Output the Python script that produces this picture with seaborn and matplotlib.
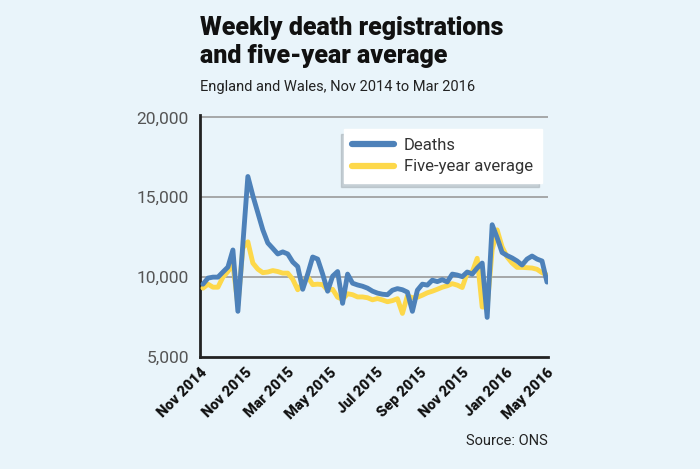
import matplotlib
matplotlib.use("Agg")
import matplotlib.pyplot as plt
import seaborn as sns
import pandas as pd
import numpy as np

# ---- data (weekly) ----
deaths = [9560, 9940, 10000, 10000, 10320, 10630, 11700, 7860, 12080, 16300,
          15100, 14030, 12960, 12140, 11800, 11450, 11580, 11450, 10950, 10660,
          9240, 10190, 11260, 11130, 10190, 9120, 10060, 10350, 8360, 10190,
          9620, 9510, 9430, 9310, 9120, 9000, 8930, 8900, 9180, 9280,
          9210, 9060, 7860, 9180, 9560, 9500, 9810, 9720, 9840, 9700,
          10190, 10130, 10030, 10320, 10190, 10570, 10880, 7480, 13280, 12460,
          11540, 11350, 11200, 11010, 10760, 11130, 11320, 11130, 11010, 9690]
five_year_avg = [9310, 9560, 9370, 9370, 10000, 10350, 10820, 8240, 11830, 12210,
                 10880, 10500, 10280, 10320, 10410, 10350, 10250, 10250, 9870, 9210,
                 9620, 10030, 9530, 9560, 9530, 9180, 9240, 8740, 8610, 8960,
                 8900, 8760, 8760, 8710, 8580, 8660, 8570, 8460, 8530, 8650,
                 7730, 8830, 8710, 8740, 8870, 9020, 9120, 9240, 9370, 9460,
                 9590, 9500, 9350, 10270, 10320, 11180, 8130, 8130, 11700, 12960,
                 11890, 11260, 10880, 10610, 10610, 10590, 10570, 10490, 10280, 10130]
series_names = ["Deaths", "Five-year average"]
tick_labels = ["Nov 2014", "Nov 2015", "Mar 2015", "May 2015", "Jul 2015",
               "Sep 2015", "Nov 2015", "Jan 2016", "May 2016"]
tick_weeks = [-0.6, 8.4, 17.0, 25.4, 34.8, 43.4, 52.0, 60.8, 69.0]
y_ticks = [5000, 10000, 15000, 20000]

weeks = list(range(len(deaths)))
df = pd.DataFrame({
    "week": weeks * 2,
    "value": deaths + five_year_avg,
    "series": [series_names[0]] * len(deaths) + [series_names[1]] * len(five_year_avg),
})

BG = "#e9f4fa"
BLUE = "#4d81b9"
YELLOW = "#fdd84a"

sns.set_style("white")
plt.rcParams["font.family"] = ["Roboto", "DejaVu Sans"]

fig = plt.figure(figsize=(7, 4.69), dpi=100, facecolor=BG)
ax = fig.add_axes([200 / 700, 1 - 357 / 469, 348 / 700, 242 / 469])
ax.set_facecolor(BG)

for yv in y_ticks[1:]:
    ax.axhline(yv, color="#9a9a9a", lw=1.2, zorder=0)

sns.lineplot(data=df, x="week", y="value", hue="series",
             palette={series_names[0]: BLUE, series_names[1]: YELLOW},
             hue_order=[series_names[1], series_names[0]],
             lw=3.5, ax=ax, legend=False, zorder=3)
ax.set_xlim(-0.6, 69.2)
ax.set_ylim(5000, 20150)
ax.set_xlabel("")
ax.set_ylabel("")

ax.set_yticks(y_ticks)
ax.set_yticklabels([f"{v:,}" for v in y_ticks], fontsize=12.5, color="#555555")
ax.set_xticks(tick_weeks)
ax.set_xticklabels(tick_labels, rotation=45, ha="right", rotation_mode="anchor",
                   fontsize=10.5, fontweight="black", color="#111111")
ax.tick_params(axis="x", direction="in", length=4, width=1, color="#555555", pad=6)
ax.tick_params(axis="y", length=0, pad=8)

for s in ["top", "right"]:
    ax.spines[s].set_visible(False)
for s in ["left", "bottom"]:
    ax.spines[s].set_color("#222222")
    ax.spines[s].set_linewidth(2)

from matplotlib.lines import Line2D
handles = [Line2D([0], [0], color=BLUE, lw=4.5, solid_capstyle="round"),
           Line2D([0], [0], color=YELLOW, lw=4.5, solid_capstyle="round")]
leg = ax.legend(handles, series_names, loc="upper left", bbox_to_anchor=(0.39, 0.975),
                frameon=True, fancybox=False, framealpha=1, edgecolor="white",
                facecolor="white", fontsize=12, handlelength=2.5, handletextpad=0.6,
                borderpad=0.5, labelspacing=0.4,
                shadow={"color": "#9aa4aa", "alpha": 0.45, "ox": -2, "oy": -3})
for t in leg.get_texts():
    t.set_color("#333333")

fig.text(200 / 700, 1 - 35 / 469, "Weekly death registrations", fontsize=18,
         fontweight="black", color="#111111", va="baseline", ha="left")
fig.text(200 / 700, 1 - 63 / 469, "and five-year average", fontsize=18,
         fontweight="black", color="#111111", va="baseline", ha="left")
fig.text(200 / 700, 1 - 91 / 469, "England and Wales, Nov 2014 to Mar 2016",
         fontsize=10.5, color="#222222", va="baseline", ha="left")
fig.text(548 / 700, 1 - 445 / 469, "Source: ONS", fontsize=10.5, color="#222222",
         va="baseline", ha="right")

fig.savefig("out.png", dpi=100, facecolor=BG)
